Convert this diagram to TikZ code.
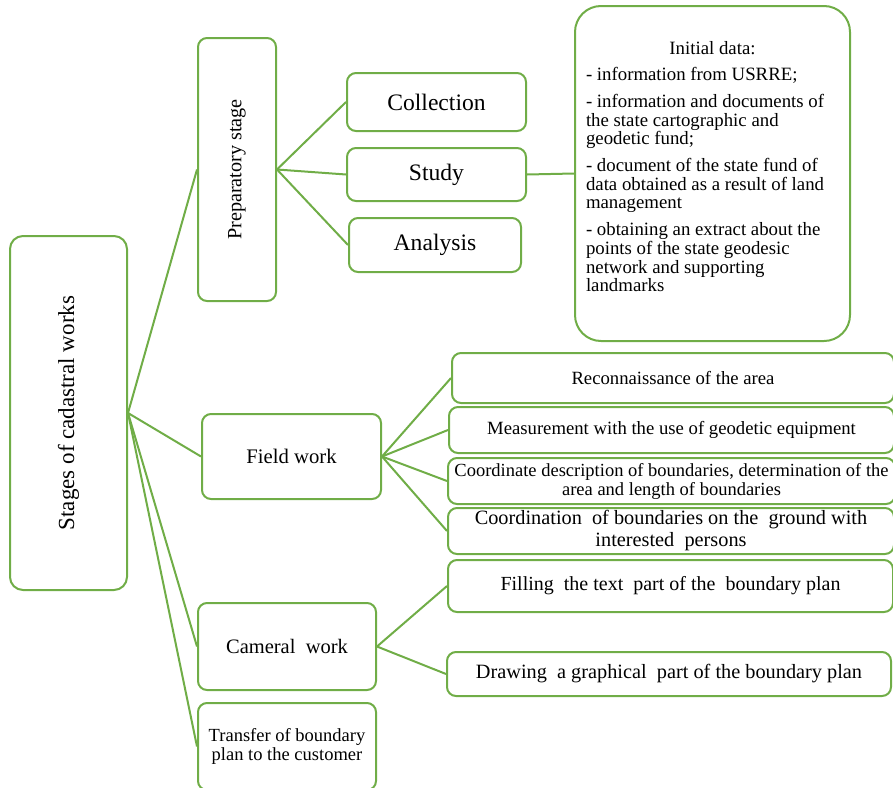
\documentclass[tikz,border=0pt]{standalone}
\usepackage{fontspec}
\setmainfont{Liberation Serif}
\usepackage{graphicx}
\definecolor{leafgreen}{RGB}{112,173,71}
\tikzstyle{stage} = [rectangle, rounded corners=9pt, text centered, align=center, inner sep=0pt, draw=leafgreen, line width=2pt]
\tikzstyle{line} = [draw=leafgreen, line width=2pt]
\newcommand{\fs}[2]{\fontsize{#1}{#2}\selectfont}

\begin{document}
\begin{tikzpicture}[x=1pt, y=-1pt]
\useasboundingbox (0,0) rectangle (893,787);

% Nodes
\node (stages) [stage, rounded corners=13pt, minimum width=117pt, minimum height=354pt, font=\fs{23}{27}] at (68.5,413) {\rotatebox{90}{Stages of cadastral works}};
\node (prep) [stage, minimum width=78pt, minimum height=263pt, font=\fs{20.2}{24}] at (237,169.5) {\rotatebox{90}{Preparatory stage}};
\node (collect) [stage, minimum width=179pt, minimum height=58pt, font=\fs{23.6}{27}] at (436.5,102) {Collection};
\node (study) [stage, minimum width=179pt, minimum height=53pt, font=\fs{23.6}{27}] at (436.5,174.5) {Study};
\node (analysis) [stage, minimum width=172pt, minimum height=54pt, font=\fs{23.6}{27}] at (435,245) {Analysis};
\node (initial) [stage, rounded corners=26pt, minimum width=275pt, minimum height=335pt, font=\fs{18.8}{18.7}] at (712.5,173.5) {\parbox[c][335pt][t]{253pt}{\setlength{\parskip}{8pt}\vspace*{27pt}%
{\centering Initial data:\par}
\raggedright
- information from USRRE;\par
- information and documents of\\ the state cartographic and\\ geodetic fund;\par
- document of the state fund of\\ data obtained as a result of land\\ management\par
- obtaining an extract about the\\ points of the state geodesic\\ network and supporting\\ landmarks\par}};

\node (field) [stage, minimum width=179pt, minimum height=85pt, font=\fs{20.7}{24}] at (291.5,456.5) {Field work};
\node (recon) [stage, minimum width=442pt, minimum height=50pt, font=\fs{18.7}{20}] at (673,378) {Reconnaissance of the area};
\node (measure) [stage, minimum width=445pt, minimum height=46pt, font=\fs{18.7}{20}] at (671.5,430) {Measurement with the use of geodetic equipment};
\node (coord) [stage, minimum width=447pt, minimum height=46pt, font=\fs{18.5}{19}] at (671.5,481) {Coordinate description of boundaries, determination of the\\ area and length of boundaries};
\node (agree) [stage, minimum width=446pt, minimum height=46pt, font=\fs{20.3}{22}] at (671,531) {Coordination \ of boundaries on the \ ground with\\ interested \ persons};

\node (cameral) [stage, minimum width=178pt, minimum height=87pt, font=\fs{20.5}{24}] at (287,646.5) {Cameral \ work};
\node (filling) [stage, minimum width=445pt, minimum height=52pt, font=\fs{20}{22}] at (670.5,586) {Filling \ the text \ part of the \ boundary plan};
\node (drawing) [stage, minimum width=444pt, minimum height=44pt, font=\fs{20.3}{22}] at (669,674) {Drawing \ a graphical \ part of the boundary plan};
\node (transfer) [stage, minimum width=178pt, minimum height=87pt, font=\fs{18.5}{19.5}] at (287,746.5) {Transfer of boundary\\ plan to the customer};

% Lines
\draw [line] (stages.east) -- (prep.west);
\draw [line] (stages.east) -- (field.west);
\draw [line] (stages.east) -- (cameral.west);
\draw [line] (stages.east) -- (transfer.west);
\draw [line] (prep.east) -- (collect.west);
\draw [line] (prep.east) -- (study.west);
\draw [line] (prep.east) -- (analysis.west);
\draw [line] (study.east) -- (initial.west);
\draw [line] (field.east) -- (recon.west);
\draw [line] (field.east) -- (measure.west);
\draw [line] (field.east) -- (coord.west);
\draw [line] (field.east) -- (agree.west);
\draw [line] (cameral.east) -- (filling.west);
\draw [line] (cameral.east) -- (drawing.west);

\end{tikzpicture}
\end{document}
